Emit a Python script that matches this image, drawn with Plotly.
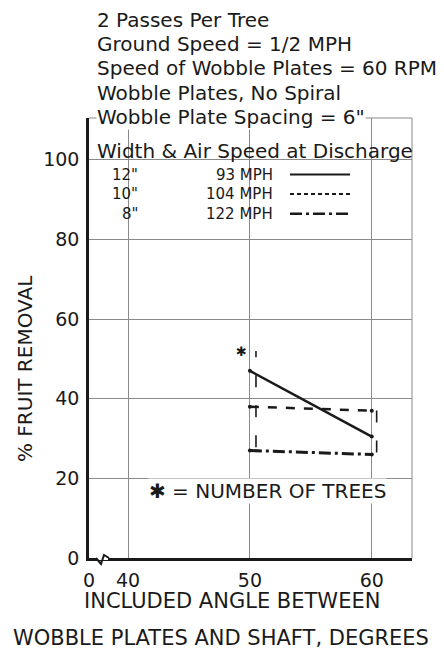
import plotly.graph_objects as go

# ---- data ----
angles = [50, 60]
widths = ['12"', '10"', '8"']
air_speeds = ["93 MPH", "104 MPH", "122 MPH"]
removal_12 = [47.0, 30.5]
removal_10 = [38.0, 37.0]
removal_8 = [27.0, 26.0]
range_x = [50.5, 60.4]
range_low = [27.8, 26.5]
range_high = [52.0, 41.5]
tree_mark_x = [49.3]
tree_mark_y = [51.5]
header_lines = ["2 Passes Per Tree", "Ground Speed = 1/2 MPH",
                "Speed of Wobble Plates = 60 RPM", "Wobble Plates, No Spiral",
                'Wobble Plate Spacing = 6"']
legend_title = "Width & Air Speed at Discharge"
x_title_lines = ["INCLUDED ANGLE BETWEEN", "WOBBLE PLATES AND SHAFT, DEGREES"]
y_title = "% FRUIT REMOVAL"
note_text = "✱ = NUMBER OF TREES"
x_tickvals = [36.8, 40, 50, 60]
x_ticktext = ["0", "40", "50", "60"]
y_tickvals = [0, 20, 40, 60, 80, 100]

FONT = "DejaVu Sans"
INK = "#1a1a1a"
GRID = "#8a8a8a"

XR = [36.8, 63.3]
YR = [0, 110.5]
L, R, T, B = 89, 412, 118, 558
W, H = 444, 659

def xp(px):
    return (px - L) / (R - L)

def yp(py):
    return (B - py) / (B - T)

fig = go.Figure()

styles = ["solid", "dash", "12px,4px,3px,4px"]
lw = [2.5, 2.5, 3]
for name, vals, st, w in zip(widths, [removal_12, removal_10, removal_8], styles, lw):
    fig.add_trace(go.Scatter(x=angles, y=vals, mode="lines+markers",
                             line=dict(color=INK, width=w, dash=st),
                             marker=dict(size=4, color=INK),
                             name=name, showlegend=False))

for xv, lo, hi in zip(range_x, range_low, range_high):
    fig.add_trace(go.Scatter(x=[xv, xv], y=[lo, hi], mode="lines",
                             line=dict(color=INK, width=1.6, dash="12px,18px"),
                             showlegend=False))

fig.add_trace(go.Scatter(x=tree_mark_x, y=tree_mark_y, mode="text", text=["✱"],
                         textfont=dict(family=FONT, size=13, color=INK),
                         showlegend=False))

def txt(px, py, text, size, anchor="left", bg="white"):
    return dict(x=xp(px), y=yp(py), xref="paper", yref="paper", text=text,
                showarrow=False, xanchor=anchor, yanchor="middle",
                bgcolor=bg, borderpad=0,
                font=dict(family=FONT, size=size, color=INK))

shapes = []
# white panel behind the legend block (hides grid there, as in the reference)
shapes.append(dict(type="rect", xref="paper", yref="paper",
                   x0=xp(97), x1=xp(408), y0=yp(164), y1=yp(141),
                   fillcolor="white", line=dict(width=0), layer="below"))
shapes.append(dict(type="rect", xref="paper", yref="paper",
                   x0=xp(97), x1=xp(362), y0=yp(222), y1=yp(162),
                   fillcolor="white", line=dict(width=0), layer="below"))

annotations = []
for i, line in enumerate(header_lines):
    annotations.append(txt(96, 20 + i * 24.2, line, 20))
annotations.append(txt(96, 151, legend_title, 20, bg=None))

for i, (wd, sp, st) in enumerate(zip(widths, air_speeds, styles)):
    py = 174.5 + i * 19.6
    annotations.append(txt(139, py, wd, 15, "right", None))
    annotations.append(txt(274, py, sp, 15, "right", None))
    shapes.append(dict(type="line", xref="paper", yref="paper", x0=xp(290), x1=xp(350),
                       y0=yp(py), y1=yp(py),
                       line=dict(color=INK, width=2 if i < 2 else 2.5,
                                 dash=["solid", "4px,3px", "12px,4px,3px,4px"][i])))

annotations.append(txt(148, 491, note_text, 20))
annotations.append(txt(232, 601, x_title_lines[0], 21, "center", None))
annotations.append(txt(221, 638, x_title_lines[1], 21, "center", None))
annotations.append(dict(x=xp(25), y=yp(369), xref="paper", yref="paper", text=y_title,
                        showarrow=False, textangle=-90, xanchor="center", yanchor="middle",
                        font=dict(family=FONT, size=20, color=INK)))

# frame: thin top and right borders
shapes.append(dict(type="line", xref="paper", yref="paper", x0=0, x1=1, y0=1, y1=1,
                   line=dict(color=GRID, width=1), layer="below"))
shapes.append(dict(type="line", xref="paper", yref="paper", x0=1, x1=1, y0=0, y1=1,
                   line=dict(color=GRID, width=1), layer="below"))
# white gap in x axis at the break, then the squiggle
shapes.append(dict(type="line", xref="paper", yref="paper", x0=xp(97), x1=xp(108),
                   y0=0, y1=0, line=dict(color="white", width=4)))
shapes.append(dict(type="path", xref="paper", yref="paper",
                   path="M {a},{b} L {c},{d} L {e},{f} L {g},{h}".format(
                       a=xp(96), b=yp(558), c=xp(101), d=yp(564),
                       e=xp(104), f=yp(555), g=xp(109), h=yp(558)),
                   line=dict(color=INK, width=2)))

fig.update_layout(
    width=W, height=H,
    margin=dict(l=L, r=W - R, t=T, b=H - B),
    plot_bgcolor="white", paper_bgcolor="white",
    annotations=annotations, shapes=shapes,
    font=dict(family=FONT, color=INK),
)
fig.update_xaxes(range=XR, tickvals=x_tickvals, ticktext=x_ticktext,
                 showgrid=True, gridcolor=GRID, gridwidth=1,
                 showline=True, linecolor=INK, linewidth=2.5,
                 ticks="", zeroline=False, ticklabelstandoff=3,
                 tickfont=dict(family=FONT, size=19, color=INK))
fig.update_yaxes(range=YR, tickvals=y_tickvals,
                 showgrid=True, gridcolor=GRID, gridwidth=1,
                 showline=True, linecolor=INK, linewidth=2.5,
                 ticks="", zeroline=False, ticklabelstandoff=3,
                 tickfont=dict(family=FONT, size=19, color=INK))

fig.write_html("out.html")
